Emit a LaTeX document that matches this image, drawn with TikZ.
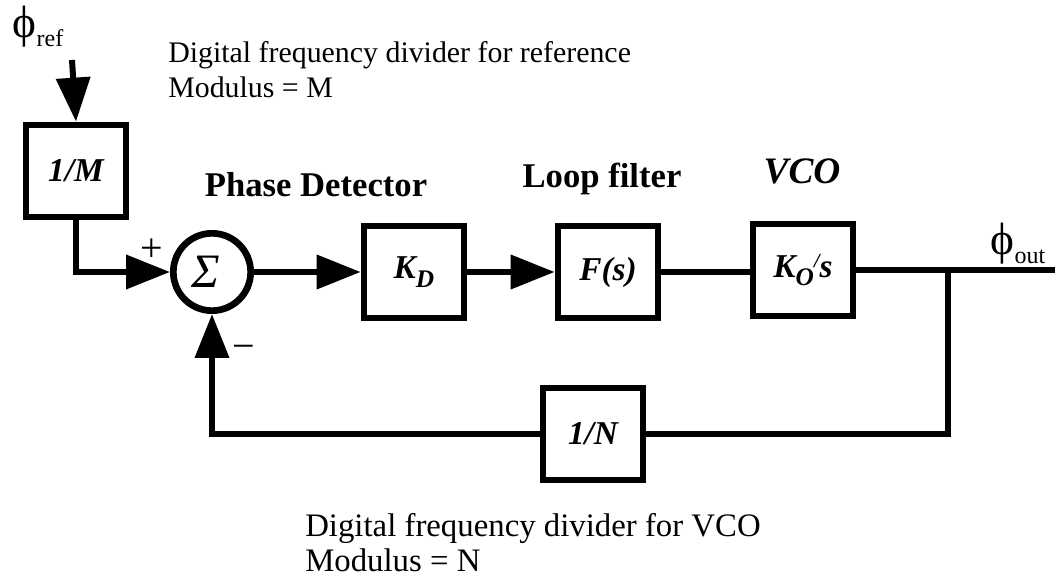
\documentclass[tikz,border=0pt]{standalone}
\usepackage{fontspec}
\setmainfont{Liberation Serif}
\usetikzlibrary{arrows.meta}
\tikzset{
  >={Triangle[length=33pt,width=25pt]},
  blk/.style={draw, line width=5pt, minimum width=75pt, minimum height=69pt,
              inner sep=0pt, font=\fontsize{25}{28}\selectfont\bfseries\itshape},
  sumnode/.style={draw, circle, line width=5pt, minimum size=58pt, inner sep=0pt,
              font=\fontsize{36}{38}\selectfont\itshape},
  wire/.style={line width=4.5pt},
  sig/.style={->, line width=4.5pt},
  note/.style={font=\fontsize{22.4}{26.25}\selectfont, align=left, inner sep=0pt},
  note2/.style={font=\fontsize{24.6}{26.25}\selectfont, align=left, inner sep=0pt},
  ttl/.style={font=\fontsize{26}{30}\selectfont\bfseries, inner sep=0pt},
  sgn/.style={font=\fontsize{30}{32}\selectfont, inner sep=0pt},
  phs/.style={font=\fontsize{34}{36}\selectfont, inner sep=0pt},
}
\newcommand{\sub}[1]{\raisebox{-0.25em}{\fontsize{19}{20}\selectfont #1}}
\newcommand{\phsub}[1]{\raisebox{-0.2em}{\fontsize{18}{20}\selectfont #1}}

\begin{document}
\begin{tikzpicture}[x=0.75pt,y=-0.75pt]
  \useasboundingbox (0,0) rectangle (1057,580);
  % blocks
  \node[blk] (divM) at (76,171) {1/M};
  \node[sumnode] (sum) at (212,272) {Σ\kern 9pt};
  \node[blk] (kd) at (414,272) {K\sub{D}};
  \node[blk] (fs) at (608,272) {F(s)};
  \node[blk] (vco) at (803,270) {K\sub{O}\raisebox{0.3em}{\fontsize{15}{15}\selectfont /}s};
  \node[blk] (divN) at (593,434) {1/N};
  \coordinate (phin) at (72,60);
  \coordinate (out) at (1055,270);
  \coordinate (br) at (948,270);
  % labels
  \node[phs] (phiref) at (38,27) {ϕ\phsub{ref}};
  \node[phs] (phiout) at (1018,244) {ϕ\phsub{out}};
  \node[note, anchor=base west] (refnote) at (168,98)
       {Digital frequency divider for reference\\Modulus = M};
  \node[note2, anchor=base west] (vconote) at (305,572)
       {Digital frequency divider for VCO\\Modulus = N};
  \node[ttl, anchor=base] (pdlbl) at (316,197) {Phase Detector};
  \node[ttl, anchor=base] (lflbl) at (602,188) {Loop filter};
  \node[ttl, font=\fontsize{28}{30}\selectfont\bfseries\itshape, anchor=base] (vcolbl) at (802,184) {VCO};
  \node[sgn] (plus) at (152,250) {+};
  \node[sgn] (minus) at (244,352) {−};
  % connectors
  \draw[sig] (phin) -- (divM.north);
  \draw[sig] (divM.south) |- (sum.west);
  \draw[sig] (sum.east) -- (kd.west);
  \draw[sig] (kd.east) -- (fs.west);
  \draw[wire] (fs.east) -- (fs.east -| vco.west);
  \draw[wire] (vco.east) -- (out);
  \draw[wire] (br) |- (divN.east);
  \draw[sig] (divN.west) -| (sum.south);
\end{tikzpicture}
\end{document}
